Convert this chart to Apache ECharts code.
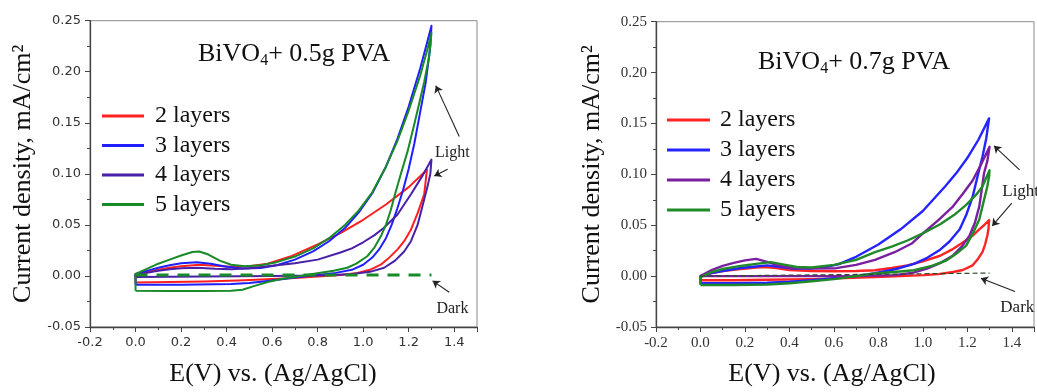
<!DOCTYPE html>
<html><head><meta charset="utf-8">
<script src="https://cdn.jsdelivr.net/npm/echarts@6/dist/echarts.min.js"></script>
<style>
html,body{margin:0;padding:0;background:#fff;width:1037px;height:392px;overflow:hidden}
#a{position:absolute;left:0;top:0;width:520px;height:392px}
#b{position:absolute;left:520px;top:0;width:517px;height:392px}
</style>
</head><body><div id="a"></div><div id="b"></div>
<script>
// ---------- data ----------
const seriesNames = ['2 layers', '3 layers', '4 layers', '5 layers'];
const xMin = -0.2, xMax = 1.5, xStep = 0.2;
const yMin = -0.05, yMax = 0.25, yStep = 0.05;
const xName = 'E(V) vs. (Ag/AgCl)';
const yName = 'Current density, mA/cm\u00B2';
const titleA = ['BiVO', '4', '+ 0.5g PVA'];
const titleB = ['BiVO', '4', '+ 0.7g PVA'];

// Left panel: BiVO4 + 0.5 g PVA  (closed CV loops, [E, j])
const a2 = [[0,-0.0065],[0,0.001],[0.05,0.004],[0.10,0.006],[0.15,0.008],[0.20,0.0095],[0.28,0.011],[0.35,0.010],[0.42,0.009],[0.50,0.0095],[0.58,0.012],[0.68,0.019],[0.80,0.031],[0.90,0.042],[1.00,0.055],[1.10,0.070],[1.20,0.087],[1.28,0.104],
  [1.268,0.080],[1.24,0.062],[1.209,0.045],[1.18,0.034],[1.151,0.026],[1.11,0.017],[1.077,0.011],[1.03,0.006],[0.975,0.003],[0.90,0.001],[0.80,-0.0005],[0.70,-0.002],[0.60,-0.003],[0.45,-0.0045],[0.30,-0.0055],[0.15,-0.006],[0,-0.0065]];
const a3 = [[0,-0.0085],[0,0.002],[0.05,0.005],[0.10,0.008],[0.15,0.0105],[0.20,0.0125],[0.27,0.0135],[0.33,0.012],[0.40,0.009],[0.47,0.0072],[0.55,0.0078],[0.62,0.0105],[0.70,0.016],[0.78,0.024],[0.85,0.034],[0.92,0.047],[0.98,0.062],[1.04,0.081],[1.10,0.107],[1.15,0.134],[1.20,0.166],[1.25,0.203],[1.28,0.228],[1.30,0.245],
  [1.295,0.225],[1.275,0.19],[1.25,0.160],[1.225,0.130],[1.20,0.105],[1.175,0.084],[1.15,0.066],[1.125,0.050],[1.10,0.037],[1.07,0.026],[1.04,0.018],[1.00,0.011],[0.95,0.006],[0.88,0.003],[0.80,0.001],[0.72,-0.001],[0.65,-0.003],[0.58,-0.005],[0.50,-0.007],[0.42,-0.008],[0.20,-0.0085],[0,-0.0085]];
const a4 = [[0,-0.001],[0,0.001],[0.05,0.003],[0.10,0.005],[0.15,0.0065],[0.20,0.0075],[0.27,0.008],[0.35,0.007],[0.42,0.0065],[0.50,0.0075],[0.60,0.010],[0.70,0.0125],[0.80,0.016],[0.90,0.023],[0.95,0.027],[1.00,0.033],[1.05,0.040],[1.09,0.047],[1.15,0.060],[1.21,0.080],[1.26,0.098],[1.30,0.114],
  [1.295,0.100],[1.283,0.088],[1.26,0.068],[1.239,0.050],[1.21,0.034],[1.18,0.024],[1.14,0.015],[1.092,0.008],[1.03,0.004],[0.945,0.0016],[0.80,0.0005],[0.60,0.0],[0.30,-0.0005],[0,-0.001]];
const a5 = [[0,-0.0145],[0,0.002],[0.05,0.007],[0.10,0.012],[0.15,0.016],[0.20,0.020],[0.25,0.0235],[0.28,0.024],[0.32,0.021],[0.37,0.015],[0.42,0.011],[0.48,0.0095],[0.55,0.0105],[0.62,0.0135],[0.70,0.019],[0.78,0.027],[0.85,0.037],[0.92,0.050],[0.98,0.064],[1.04,0.082],[1.10,0.107],[1.15,0.132],[1.20,0.162],[1.25,0.196],[1.28,0.220],[1.30,0.238],
  [1.29,0.215],[1.268,0.19],[1.245,0.168],[1.224,0.148],[1.195,0.122],[1.165,0.0996],[1.14,0.080],[1.121,0.0643],[1.10,0.050],[1.077,0.0386],[1.05,0.028],[1.018,0.0193],[0.97,0.012],[0.93,0.008],[0.87,0.005],[0.813,0.0032],[0.75,0.001],[0.70,-0.001],[0.64,-0.003],[0.58,-0.006],[0.52,-0.010],[0.47,-0.0135],[0.42,-0.0145],[0.30,-0.0148],[0.15,-0.0148],[0,-0.0145]];
const aDark = [[0,0.001],[1.3,0.001]];

// Right panel: BiVO4 + 0.7 g PVA
const b2 = [[0,-0.004],[0,0.0],[0.05,0.003],[0.10,0.005],[0.18,0.007],[0.25,0.0085],[0.29,0.009],[0.34,0.008],[0.40,0.006],[0.50,0.005],[0.60,0.0048],[0.70,0.005],[0.785,0.0058],[0.86,0.008],[0.931,0.0106],[1.00,0.0145],[1.078,0.020],[1.13,0.026],[1.18,0.033],[1.225,0.040],[1.254,0.046],[1.275,0.050],[1.298,0.055],
  [1.295,0.046],[1.29,0.0396],[1.28,0.031],[1.268,0.0235],[1.245,0.016],[1.224,0.0106],[1.18,0.006],[1.136,0.004],[1.07,0.002],[1.004,0.001],[0.90,0.0],[0.785,-0.001],[0.65,-0.002],[0.50,-0.003],[0.30,-0.0035],[0.15,-0.004],[0,-0.004]];
const b3 = [[0,-0.007],[0,0.0],[0.05,0.003],[0.10,0.005],[0.18,0.008],[0.25,0.0095],[0.30,0.0106],[0.36,0.009],[0.42,0.0075],[0.49,0.0074],[0.56,0.0088],[0.62,0.0115],[0.70,0.019],[0.80,0.031],[0.90,0.046],[1.00,0.064],[1.10,0.088],[1.15,0.101],[1.20,0.116],[1.25,0.134],[1.298,0.155],
  [1.285,0.135],[1.268,0.117],[1.245,0.097],[1.224,0.078],[1.195,0.060],[1.166,0.046],[1.12,0.034],[1.078,0.026],[1.02,0.018],[0.96,0.012],[0.88,0.007],[0.785,0.003],[0.70,0.0],[0.60,-0.002],[0.50,-0.004],[0.40,-0.0055],[0.30,-0.0065],[0.15,-0.007],[0,-0.007]];
const b4 = [[0,0.0],[0,0.001],[0.05,0.006],[0.10,0.010],[0.15,0.013],[0.20,0.0155],[0.25,0.017],[0.30,0.014],[0.35,0.0105],[0.40,0.0085],[0.50,0.0075],[0.61,0.0078],[0.70,0.011],[0.785,0.016],[0.873,0.0235],[0.95,0.032],[1.004,0.0428],[1.07,0.055],[1.136,0.0686],[1.18,0.081],[1.224,0.094],[1.26,0.109],[1.30,0.127],
  [1.29,0.113],[1.275,0.1008],[1.265,0.085],[1.254,0.0686],[1.235,0.053],[1.21,0.0396],[1.175,0.029],[1.136,0.0203],[1.08,0.013],[1.019,0.0074],[0.95,0.003],[0.873,0.001],[0.70,0.0],[0.40,0.0],[0,0.0]];
const b5 = [[0,-0.0087],[0,-0.001],[0.05,0.004],[0.10,0.007],[0.18,0.010],[0.25,0.012],[0.316,0.0138],[0.37,0.0115],[0.433,0.009],[0.50,0.0085],[0.60,0.011],[0.70,0.016],[0.785,0.0235],[0.86,0.029],[0.931,0.035],[1.00,0.042],[1.078,0.051],[1.14,0.060],[1.195,0.070],[1.24,0.080],[1.268,0.088],[1.30,0.104],
  [1.298,0.098],[1.29,0.088],[1.272,0.072],[1.254,0.0557],[1.225,0.042],[1.195,0.030],[1.15,0.022],[1.107,0.0155],[1.04,0.010],[0.96,0.0058],[0.87,0.004],[0.785,0.0026],[0.70,0.0],[0.60,-0.003],[0.50,-0.005],[0.40,-0.007],[0.30,-0.0082],[0.15,-0.0087],[0,-0.0087]];
const bDark = [[0,0.0],[1.3,0.003]];

// annotations (data coordinates)
const aLabels = [['Light', [1.392, 0.121]], ['Dark', [1.392, -0.032]]];
const aArrows = [[[1.422, 0.1366], [1.319, 0.1864]], [[1.371, 0.1044], [1.312, 0.098]], [[1.378, -0.016], [1.305, -0.0048]]];
const bLabels = [['Light', [1.44, 0.0835]], ['Dark', [1.425, -0.031]]];
const bArrows = [[[1.435, 0.1043], [1.32, 0.128]], [[1.40, 0.0718], [1.312, 0.0493]], [[1.4145, -0.0152], [1.261, -0.0022]]];

// ---------- styling / building ----------
const SERIF = '"Liberation Serif","Times New Roman",serif';
const SANS = '"DejaVu Sans",sans-serif';

function build(el, cfg) {
  const chart = echarts.init(el, null, {renderer: 'canvas'});
  const series = cfg.data.map((d, i) => ({
    name: seriesNames[i], type: 'line', data: d, symbol: 'none', showSymbol: false,
    lineStyle: {color: cfg.colors[i], width: cfg.lw, join: 'round'},
    itemStyle: {color: cfg.colors[i]}, clip: false, silent: true, z: 2 + i
  }));
  series.push({
    name: 'dark', type: 'line', data: cfg.dark, symbol: 'none', silent: true, z: 10,
    lineStyle: {color: cfg.darkColor, width: cfg.darkWidth, type: cfg.darkDash},
    markLine: {
      silent: true, animation: false, symbol: ['none', 'arrow'], symbolSize: 7,
      label: {show: false}, emphasis: {disabled: true},
      lineStyle: {color: '#222', width: 1.1, type: 'solid'},
      data: cfg.arrows.map(([p, q]) => [{coord: p}, {coord: q}])
    },
    markPoint: {
      silent: true, animation: false, symbol: 'circle', symbolSize: 0,
      label: {show: true, formatter: p => p.name, position: 'inside',
        color: '#222', fontFamily: SERIF, fontSize: cfg.annSize},
      data: cfg.labels.map(([n, c]) => ({name: n, coord: c}))
    }
  });
  chart.setOption({
    animation: false,
    backgroundColor: '#fff',
    grid: {left: cfg.grid[0], top: cfg.grid[1], width: cfg.grid[2], height: cfg.grid[3],
      show: true, borderColor: '#8a8a8a', borderWidth: 1, backgroundColor: 'transparent'},
    xAxis: {
      type: 'value', min: xMin, max: xMax, interval: xStep,
      name: xName, nameLocation: 'middle', nameGap: cfg.xNameGap,
      nameTextStyle: {fontFamily: SERIF, fontSize: 26, color: '#111', padding: cfg.xNamePad},
      axisLine: {onZero: false, lineStyle: {color: '#444', width: 1.3}},
      axisTick: {length: 5, lineStyle: {color: '#444'}},
      minorTick: {show: true, splitNumber: 2, length: 3, lineStyle: {color: '#444'}},
      splitLine: {show: false},
      axisLabel: {margin: 9, fontFamily: cfg.tickFont, fontSize: cfg.tickSize, color: '#333',
        formatter: v => (v > 1.45 ? '' : v.toFixed(1))}
    },
    yAxis: {
      type: 'value', min: yMin, max: yMax, interval: yStep,
      name: yName, nameLocation: 'middle', nameGap: cfg.yNameGap,
      nameTextStyle: {fontFamily: SERIF, fontSize: 26, color: '#111'},
      axisLine: {onZero: false, lineStyle: {color: '#444', width: 1.3}},
      axisTick: {length: 5, lineStyle: {color: '#444'}},
      minorTick: {show: true, splitNumber: 2, length: 3, lineStyle: {color: '#444'}},
      splitLine: {show: false},
      axisLabel: {margin: 9, fontFamily: cfg.tickFont, fontSize: cfg.tickSize, color: '#333',
        formatter: v => v.toFixed(2)}
    },
    legend: {
      data: seriesNames, orient: 'vertical', left: cfg.legend[0], top: cfg.legend[1],
      padding: 0, icon: 'rect', itemWidth: cfg.legend[2], itemHeight: 3, itemGap: cfg.legend[3],
      selectedMode: false,
      textStyle: {fontFamily: SERIF, fontSize: 24, color: '#111', padding: [0, 0, 0, cfg.legend[4]]}
    },
    graphic: [{
      type: 'text', x: cfg.title[0], y: cfg.title[1], silent: true,
      style: {
        text: cfg.titleText[0] + '{s|' + cfg.titleText[1] + '}' + cfg.titleText[2],
        font: '26px ' + SERIF, fill: '#111', align: 'center', verticalAlign: 'middle',
        rich: {s: {fontSize: 16, fontFamily: SERIF, fill: '#111', padding: [13, 0, 0, 0]}}
      }
    }],
    series: series
  });
  return chart;
}

build(document.getElementById('a'), {
  data: [a2, a3, a4, a5], dark: aDark,
  colors: ['#ff1f1f', '#1f1fff', '#4a1fa8', '#188a28'], lw: 2,
  darkColor: '#188a28', darkWidth: 3, darkDash: [12, 9],
  arrows: aArrows, labels: aLabels, annSize: 16,
  grid: [90, 20.7, 387, 311],
  xNameGap: 34, xNamePad: [0, 21, 0, 0], yNameGap: 40,
  tickFont: SANS, tickSize: 13,
  legend: [102, 104, 42, 5.5, 6],
  title: [294, 54], titleText: titleA
});

build(document.getElementById('b'), {
  data: [b2, b3, b4, b5], dark: bDark,
  colors: ['#ff2424', '#2424ff', '#7a1fa0', '#1f8a2a'], lw: 2.4,
  darkColor: '#2d4a2d', darkWidth: 1.2, darkDash: [5, 3],
  arrows: bArrows, labels: bLabels, annSize: 17,
  grid: [136, 21.7, 387, 310.6],
  xNameGap: 34, xNamePad: [0, 26, 0, 0], yNameGap: 38,
  tickFont: SERIF, tickSize: 15,
  legend: [147, 108, 43, 6, 5],
  title: [334, 62], titleText: titleB
});
</script>
</body></html>
